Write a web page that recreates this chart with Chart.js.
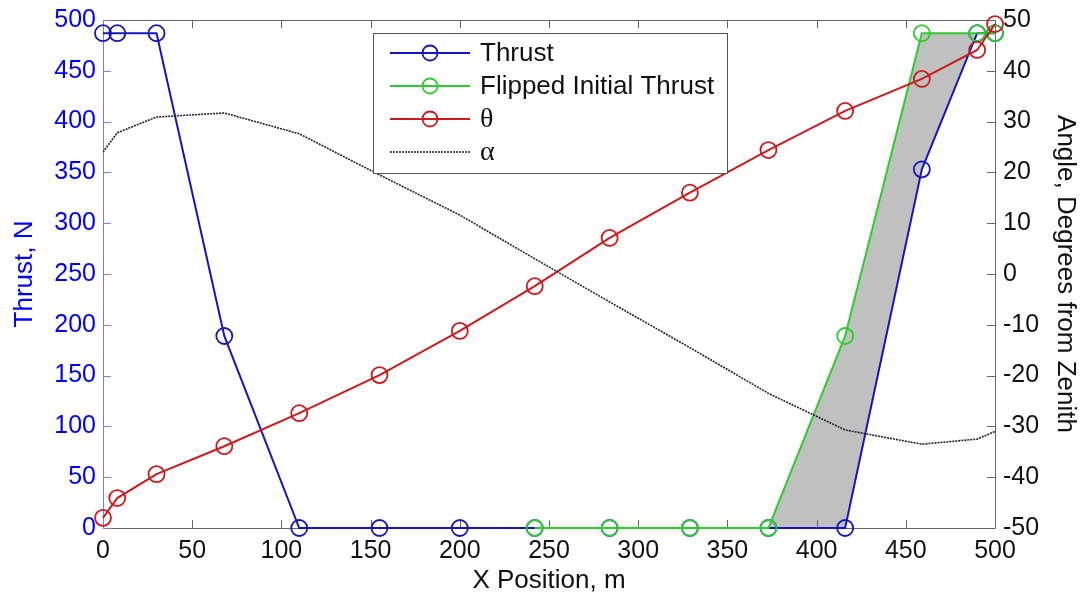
<!DOCTYPE html>
<html lang="en">
<head>
  <meta charset="UTF-8">
  <title>Thrust and Angle vs X Position</title>
  <script src="https://cdn.jsdelivr.net/npm/chart.js"></script>
  <style>
    body { margin: 0; background: #FFFFFF; }
    #wrap { width: 1086px; height: 598px; }
  </style>
</head>
<body>
  <div id="wrap"><canvas id="grafico" width="1086" height="598"></canvas></div>

  <script>
    // x positions (m) where the trajectory was sampled
    const xPos = [0, 8, 30, 68, 110, 155, 200, 242, 284, 329, 373, 416, 459, 490, 500];
    // thrust, N
    const thrust = [487, 487, 487, 189, 0, 0, 0, 0, 0, 0, 0, 0, 353, 487, 487];
    // flipped initial thrust, starts at x = 242
    const flippedX = [242, 284, 329, 373, 416, 459, 490, 500];
    const flipped = [0, 0, 0, 0, 189, 487, 487, 487];
    // angles, degrees from zenith
    const theta = [-48.0, -44.1, -39.4, -33.9, -27.4, -19.9, -11.2, -2.4, 7.1, 16.0, 24.4, 32.1, 38.4, 44.1, 49.2];
    const alpha = [24.0, 27.8, 30.9, 31.7, 27.6, 19.5, 11.6, 3.0, -5.5, -14.5, -23.5, -30.7, -33.5, -32.5, -31.0];

    const xTicks = [0, 50, 100, 150, 200, 250, 300, 350, 400, 450, 500];
    const thrustTicks = [0, 50, 100, 150, 200, 250, 300, 350, 400, 450, 500];
    const angleTicks = [-50, -40, -30, -20, -10, 0, 10, 20, 30, 40, 50];

    const fonte = "'Liberation Sans', Arial, sans-serif";
    const azul = "#1515c0";
    const verde = "#2ecc2e";
    const vermelho = "#cc1a1a";

    const pares = (xs, ys) => xs.map((x, i) => ({ x: x, y: ys[i] }));

    // box with inward ticks, like the original figure
    const caixa = {
      id: "caixa",
      beforeDatasetsDraw(chart) {
        const { ctx, chartArea: a, scales } = chart;
        ctx.save();
        ctx.lineWidth = 1;
        ctx.strokeStyle = "#666";
        ctx.beginPath();
        ctx.moveTo(a.left, a.top + 0.5); ctx.lineTo(a.right + 0.5, a.top + 0.5);
        ctx.lineTo(a.right + 0.5, a.bottom + 0.5); ctx.lineTo(a.left, a.bottom + 0.5);
        xTicks.forEach(v => {
          const px = Math.round(scales.x.getPixelForValue(v)) + 0.5;
          ctx.moveTo(px, a.top); ctx.lineTo(px, a.top + 8);
          ctx.moveTo(px, a.bottom); ctx.lineTo(px, a.bottom - 8);
        });
        angleTicks.forEach(v => {
          const py = Math.round(scales.y1.getPixelForValue(v)) + 0.5;
          ctx.moveTo(a.right, py); ctx.lineTo(a.right - 8, py);
        });
        ctx.stroke();
        ctx.strokeStyle = "#7a7aff";
        ctx.beginPath();
        ctx.moveTo(a.left + 0.5, a.top); ctx.lineTo(a.left + 0.5, a.bottom);
        thrustTicks.forEach(v => {
          const py = Math.round(scales.y.getPixelForValue(v)) + 0.5;
          ctx.moveTo(a.left, py); ctx.lineTo(a.left + 8, py);
        });
        ctx.stroke();
        ctx.restore();
      }
    };

    const legenda = {
      id: "legenda",
      afterDraw(chart) {
        const ctx = chart.ctx;
        const itens = [
          { txt: "Thrust", cor: azul, marca: true, f: "26px " + fonte },
          { txt: "Flipped Initial Thrust", cor: verde, marca: true, f: "26px " + fonte },
          { txt: "\u03b8", cor: vermelho, marca: true, f: "28px 'Liberation Serif', serif" },
          { txt: "\u03b1", cor: "#222", marca: false, f: "28px 'Liberation Serif', serif" }
        ];
        ctx.save();
        ctx.fillStyle = "#fff";
        ctx.fillRect(373, 33, 354, 140);
        ctx.strokeStyle = "#555";
        ctx.lineWidth = 1;
        ctx.strokeRect(373.5, 33.5, 354, 140);
        itens.forEach((it, i) => {
          const y = 53 + i * 33;
          ctx.strokeStyle = it.cor;
          ctx.lineWidth = it.marca ? 2 : 1.6;
          ctx.setLineDash(it.marca ? [] : [2, 1]);
          ctx.beginPath(); ctx.moveTo(390, y); ctx.lineTo(470, y); ctx.stroke();
          ctx.setLineDash([]);
          if (it.marca) {
            ctx.lineWidth = 1.8;
            ctx.beginPath(); ctx.arc(430, y, 7.5, 0, Math.PI * 2); ctx.stroke();
          }
          ctx.fillStyle = "#111";
          ctx.font = it.f;
          ctx.textBaseline = "middle";
          ctx.fillText(it.txt, 480, y + 1);
        });
        ctx.restore();
      }
    };

    const circulo = {
      pointStyle: "circle",
      pointRadius: 8,
      pointBorderWidth: 1.8,
      pointBackgroundColor: "rgba(0,0,0,0)",
      borderWidth: 2,
      tension: 0,
      clip: false
    };

    const semPadding = s => { s.paddingTop = 0; s.paddingBottom = 0; s.paddingLeft = 0; s.paddingRight = 0; };

    new Chart(document.getElementById("grafico"), {
      type: "line",
      data: {
        datasets: [
          Object.assign({
            label: "Thrust",
            data: pares(xPos, thrust),
            borderColor: azul,
            pointBorderColor: azul,
            yAxisID: "y",
            fill: false,
            order: 4
          }, circulo),
          Object.assign({
            label: "Flipped Initial Thrust",
            data: pares(flippedX, flipped),
            borderColor: verde,
            pointBorderColor: verde,
            yAxisID: "y",
            fill: { target: "-1", above: "#c0c0c0", below: "#c0c0c0" },
            order: 3
          }, circulo),
          Object.assign({
            label: "\u03b8",
            data: pares(xPos, theta),
            borderColor: vermelho,
            pointBorderColor: vermelho,
            yAxisID: "y1",
            fill: false,
            order: 2
          }, circulo),
          {
            label: "\u03b1",
            data: pares(xPos, alpha),
            borderColor: "#222",
            borderWidth: 1.6,
            borderDash: [2, 1],
            pointRadius: 0,
            yAxisID: "y1",
            fill: false,
            tension: 0,
            order: 1
          }
        ]
      },
      options: {
        responsive: false,
        animation: false,
        layout: { padding: { top: 20, left: 0, right: 0, bottom: 0 } },
        plugins: {
          legend: { display: false },
          tooltip: { enabled: false },
          filler: { drawTime: "beforeDatasetsDraw" }
        },
        scales: {
          x: {
            type: "linear",
            min: 0, max: 500,
            afterBuildTicks: s => { s.ticks = xTicks.map(v => ({ value: v })); },
            afterFit: s => { s.height = 70; semPadding(s); },
            grid: { display: false, drawTicks: false },
            border: { display: false },
            ticks: { color: "#111", font: { family: fonte, size: 25 }, padding: 8, maxRotation: 0, autoSkip: false },
            title: { display: true, text: "X Position, m", color: "#111", font: { family: fonte, size: 26 }, padding: { top: 0, bottom: 2 } }
          },
          y: {
            position: "left",
            min: 0, max: 500,
            afterBuildTicks: s => { s.ticks = thrustTicks.map(v => ({ value: v })); },
            afterFit: s => { s.width = 103; semPadding(s); },
            grid: { display: false, drawTicks: false },
            border: { display: false },
            ticks: { color: "#0000ff", font: { family: fonte, size: 25 }, padding: 7, autoSkip: false },
            title: { display: true, text: "Thrust, N", color: "#0000ff", font: { family: fonte, size: 26 }, padding: { top: 9, bottom: 0 } }
          },
          y1: {
            position: "right",
            min: -50, max: 50,
            afterBuildTicks: s => { s.ticks = angleTicks.map(v => ({ value: v })); },
            afterFit: s => { s.width = 91; semPadding(s); },
            grid: { display: false, drawTicks: false },
            border: { display: false },
            ticks: { color: "#111", font: { family: fonte, size: 25 }, padding: 8, autoSkip: false },
            title: { display: true, text: "Angle, Degrees from Zenith", color: "#111", font: { family: fonte, size: 26 }, padding: { top: 5, bottom: 0 } }
          }
        }
      },
      plugins: [caixa, legenda]
    });
  </script>
</body>
</html>
